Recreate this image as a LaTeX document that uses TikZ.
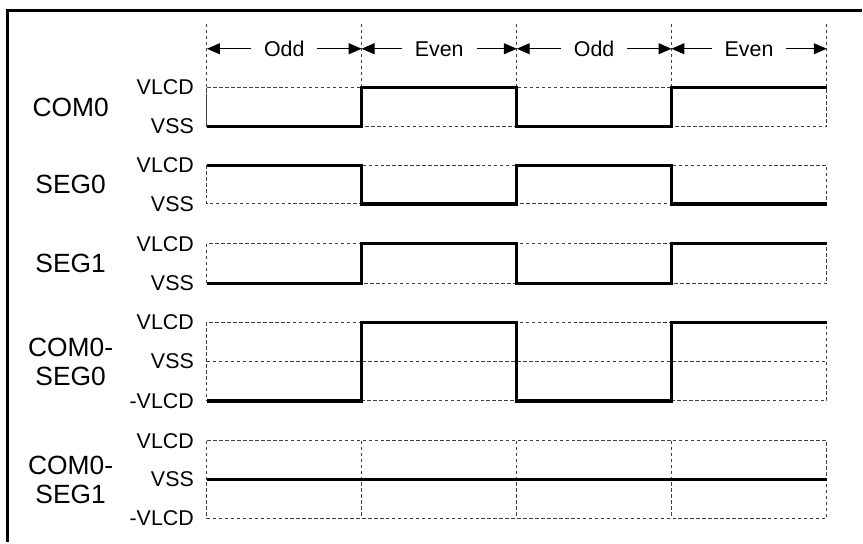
\documentclass[tikz,border=0pt]{standalone}
\usepackage{fontspec}
\setmainfont{Liberation Sans}
\usetikzlibrary{arrows.meta}

\begin{document}
\begin{tikzpicture}[
  x=1pt, y=-1pt,
  wave/.style={line width=3.2pt, line join=miter},
  grid/.style={dash pattern=on 3.5pt off 2.5pt, black!75, line width=0.9pt},
  dim/.style={{Triangle[length=13pt,width=11pt]}-{Triangle[length=13pt,width=11pt]}, line width=1pt},
  span/.style={fill=white, inner xsep=13pt, font=\fontsize{21.5}{24}\selectfont},
  level/.style={anchor=east, inner sep=0pt, font=\fontsize{21.5}{24}\selectfont},
  sig/.style={align=center, font=\fontsize{26.5}{29}\selectfont}
]
\path[fill=white] (0,0) rectangle (863,542);
\draw[line width=3pt] (8,545) -- (8,11) -- (866,11);

% time marks and phases
\coordinate (t0) at (208,49);
\coordinate (t1) at (363.5,49);
\coordinate (t2) at (519.5,49);
\coordinate (t3) at (675,49);
\coordinate (t4) at (831,49);
\foreach \x in {208,363.5,519.5,675,831}
  \draw[grid] (\x,24) -- (\x,127);
\draw[dim] (t0) -- node[span] (ph0) {Odd} (t1);
\draw[dim] (t1) -- node[span] (ph1) {Even} (t2);
\draw[dim] (t2) -- node[span] (ph2) {Odd} (t3);
\draw[dim] (t3) -- node[span] (ph3) {Even} (t4);

% dashed frames of the rows
\draw[grid] (208,88) rectangle (831,127);
\draw[grid] (208,166) rectangle (831,205);
\draw[grid] (208,245) rectangle (831,285);
\draw[grid] (208,324) rectangle (831,403) (208,363.5) -- (831,363.5);
\draw[grid] (208,443) rectangle (831,521) (208,482) -- (831,482);
\foreach \x in {363.5,519.5,675} {
  \draw[grid] (\x,166) -- (\x,205);
  \draw[grid] (\x,245) -- (\x,285);
  \draw[grid] (\x,324) -- (\x,403);
  \draw[grid] (\x,443) -- (\x,521);
}

% signal names
\node[sig] (com0) at (71,107.5) {COM0};
\node[sig] (seg0) at (71,185.5) {SEG0};
\node[sig] (seg1) at (71,265) {SEG1};
\node[sig] (diff0) at (71,363.5) {COM0-\\SEG0};
\node[sig] (diff1) at (71,482) {COM0-\\SEG1};

% levels
\node[level] (com0h) at (195,88) {VLCD};
\node[level] (com0l) at (195,127) {VSS};
\node[level] (seg0h) at (195,166) {VLCD};
\node[level] (seg0l) at (195,205) {VSS};
\node[level] (seg1h) at (195,245) {VLCD};
\node[level] (seg1l) at (195,285) {VSS};
\node[level] (diff0h) at (195,324) {VLCD};
\node[level] (diff0m) at (195,363.5) {VSS};
\node[level] (diff0l) at (195,403) {-VLCD};
\node[level] (diff1h) at (195,443) {VLCD};
\node[level] (diff1m) at (195,482) {VSS};
\node[level] (diff1l) at (195,521) {-VLCD};

% waveforms
\draw[wave] (208,127) -- (363.5,127) -- (363.5,88) -- (519.5,88) -- (519.5,127)
  -- (675,127) -- (675,88) -- (831,88);
\draw[wave] (208,166) -- (363.5,166) -- (363.5,205) -- (519.5,205) -- (519.5,166)
  -- (675,166) -- (675,205) -- (831,205);
\draw[wave] (208,285) -- (363.5,285) -- (363.5,245) -- (519.5,245) -- (519.5,285)
  -- (675,285) -- (675,245) -- (831,245);
\draw[wave] (208,403) -- (363.5,403) -- (363.5,324) -- (519.5,324) -- (519.5,403)
  -- (675,403) -- (675,324) -- (831,324);
\draw[wave] (208,482) -- (831,482);
\end{tikzpicture}
\end{document}
